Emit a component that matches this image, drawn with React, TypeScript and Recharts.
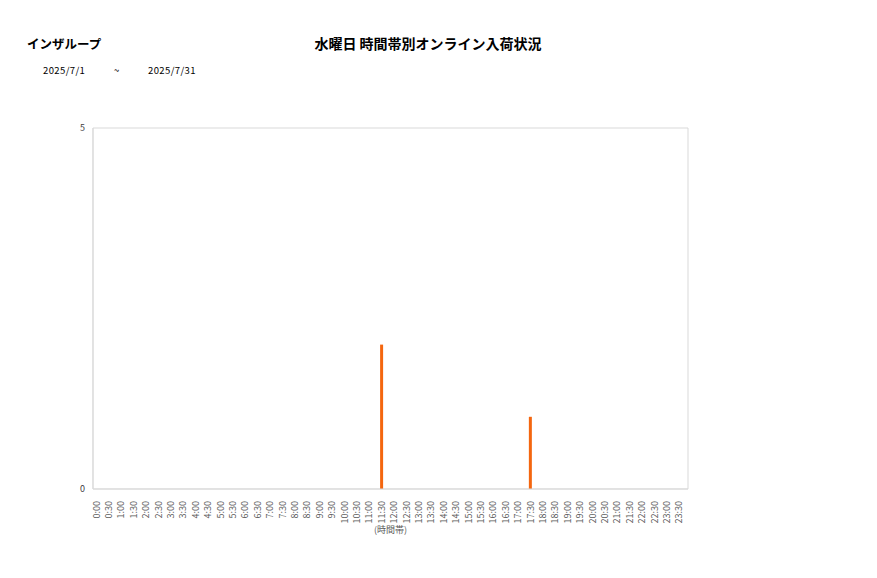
import { Bar, BarChart, CartesianGrid, XAxis, YAxis } from "recharts";

const timeSlots = [
  "0:00", "0:30", "1:00", "1:30", "2:00", "2:30", "3:00", "3:30",
  "4:00", "4:30", "5:00", "5:30", "6:00", "6:30", "7:00", "7:30",
  "8:00", "8:30", "9:00", "9:30", "10:00", "10:30", "11:00", "11:30",
  "12:00", "12:30", "13:00", "13:30", "14:00", "14:30", "15:00", "15:30",
  "16:00", "16:30", "17:00", "17:30", "18:00", "18:30", "19:00", "19:30",
  "20:00", "20:30", "21:00", "21:30", "22:00", "22:30", "23:00", "23:30",
];

const arrivals = [
  0, 0, 0, 0, 0, 0, 0, 0,
  0, 0, 0, 0, 0, 0, 0, 0,
  0, 0, 0, 0, 0, 0, 0, 2,
  0, 0, 0, 0, 0, 0, 0, 0,
  0, 0, 0, 1, 0, 0, 0, 0,
  0, 0, 0, 0, 0, 0, 0, 0,
];

const yTicks = [0, 5];

const data = timeSlots.map((slot, i) => ({ slot, count: arrivals[i] }));

const font = "'Noto Sans CJK JP', 'Noto Sans', sans-serif";
const line = "#d9d9d9";

function RotatedTick({ x, y, payload }: any) {
  return (
    <text
      x={x}
      y={y + 4}
      transform={`rotate(-90, ${x}, ${y + 4})`}
      textAnchor="end"
      dominantBaseline="central"
      fontSize={9}
      fill="#595959"
      fontFamily={font}
    >
      {payload.value}
    </text>
  );
}

export default function App() {
  return (
    <div style={{ position: "absolute", left: 0, top: 0, width: 877, height: 578, background: "#fff", fontFamily: font }}>
      <div style={{ position: "absolute", left: 27, top: 34, fontSize: 12.5, fontWeight: 700, color: "#000" }}>
        インザループ
      </div>
      <div style={{ position: "absolute", left: 0, width: 856, top: 33, textAlign: "center", fontSize: 14, fontWeight: 700, color: "#000" }}>
        水曜日 時間帯別オンライン入荷状況
      </div>
      <div style={{ position: "absolute", left: 43, top: 63, fontSize: 9.5, color: "#000", letterSpacing: 0.4 }}>2025/7/1</div>
      <div style={{ position: "absolute", left: 114, top: 63, fontSize: 9.5, color: "#000" }}>~</div>
      <div style={{ position: "absolute", left: 148, top: 63, fontSize: 9.5, color: "#000", letterSpacing: 0.4 }}>2025/7/31</div>
      <BarChart
        width={877}
        height={578}
        data={data}
        margin={{ top: 128, right: 189, bottom: 40, left: 73 }}
        barCategoryGap={0}
      >
        <CartesianGrid stroke={line} verticalPoints={[93, 688]} horizontalPoints={[128, 489]} />
        <XAxis
          dataKey="slot"
          interval={0}
          tick={<RotatedTick />}
          tickLine={false}
          axisLine={{ stroke: line }}
          padding={{ left: -3, right: 3 }}
          height={49}
          label={{ value: "(時間帯)", position: "insideBottom", offset: 5, fontSize: 9, fill: "#595959", fontFamily: font }}
        />
        <YAxis
          domain={[0, 5]}
          ticks={yTicks}
          tick={{ fontSize: 9, fill: "#404040", fontFamily: font }}
          tickLine={false}
          axisLine={{ stroke: line }}
          width={20}
        />
        <Bar dataKey="count" fill="#f4660f" barSize={3} isAnimationActive={false} />
      </BarChart>
    </div>
  );
}
